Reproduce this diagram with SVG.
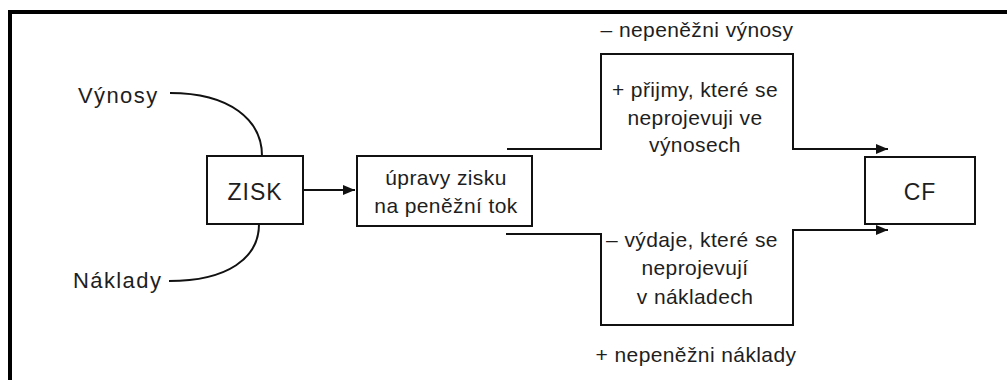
<svg xmlns="http://www.w3.org/2000/svg" width="1007" height="380" viewBox="0 0 1007 380">
<defs>
<style>
.t{font-family:"Liberation Sans",Arial,sans-serif;font-size:21px;fill:#1e1e1e;letter-spacing:0.4px}
.big{font-size:22px;letter-spacing:1.4px}
.nd{font-size:23px;letter-spacing:1px}
.c{text-anchor:middle}
.box{fill:none;stroke:#111;stroke-width:2}
.ln{fill:none;stroke:#111;stroke-width:2}
</style>
<marker id="ah" viewBox="0 0 12 10" refX="12" refY="5" markerWidth="12" markerHeight="10" markerUnits="userSpaceOnUse" orient="auto">
<path d="M0,0 L12,5 L0,10 Z" fill="#111"/>
</marker>
</defs>
<rect width="1007" height="380" fill="#ffffff"/>
<g id="frame">
<line x1="8" y1="12" x2="1007" y2="12" stroke="#000" stroke-width="4"/>
<line x1="10" y1="10" x2="10" y2="380" stroke="#000" stroke-width="4"/>
</g>
<g id="connectors">
<path class="ln" d="M170,93 C230,93 262,120 262,156"/>
<path class="ln" d="M169,281 C228,281 259,258 259,224"/>
<path class="ln" d="M303,190 H355" marker-end="url(#ah)"/>
<path class="ln" d="M507,149 H601 V54 H793 V149 H888" marker-end="url(#ah)"/>
<path class="ln" d="M506,234 H601 V325 H793 V230 H888" marker-end="url(#ah)"/>
</g>
<g id="vynosy"><text class="t big" x="78" y="103">Výnosy</text></g>
<g id="naklady"><text class="t big" x="73" y="288">Náklady</text></g>
<g id="zisk">
<rect class="box" x="207" y="156" width="96" height="68"/>
<text class="t nd c" x="255" y="200">ZISK</text>
</g>
<g id="upravy">
<rect class="box" x="357" y="156" width="175" height="70"/>
<text class="t c" x="446" y="185">úpravy zisku</text>
<text class="t c" x="446" y="213">na peněžní tok</text>
</g>
<g id="nepenezni-vynosy"><text class="t c" x="697" y="37">– nepeněžni výnosy</text></g>
<g id="prijmy">
<text class="t c" x="695" y="97">+ přijmy, které se</text>
<text class="t c" x="695" y="125">neprojevuji ve</text>
<text class="t c" x="695" y="152">výnosech</text>
</g>
<g id="vydaje">
<text class="t c" x="692" y="247">– výdaje, které se</text>
<text class="t c" x="695" y="275">neprojevují</text>
<text class="t c" x="695" y="304">v nákladech</text>
</g>
<g id="nepenezni-naklady"><text class="t c" x="696" y="362">+ nepeněžni náklady</text></g>
<g id="cf">
<rect class="box" x="865" y="157" width="110" height="67"/>
<text class="t nd c" x="920" y="200">CF</text>
</g>
</svg>
